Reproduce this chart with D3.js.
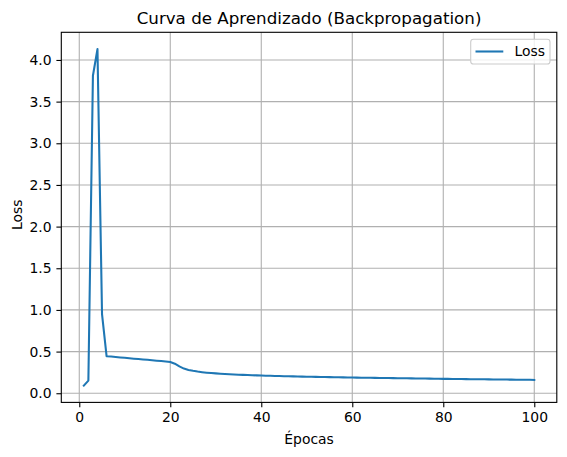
<!DOCTYPE html>
<html><head><meta charset="utf-8">
<script src="https://cdn.jsdelivr.net/npm/d3@7"></script>
<style>body{margin:0;background:#fff}svg{display:block}text{font-family:"DejaVu Sans",sans-serif;fill:#000}</style>
</head><body><svg id="c" width="567" height="457"></svg>
<script>
const titleText = "Curva de Aprendizado (Backpropagation)";
const xLabel = "Épocas";
const yLabel = "Loss";
const seriesName = "Loss";
const epochs = d3.range(1, 101);
const loss = [
 0.092,0.152,3.81,4.13,0.95,0.445,0.440,0.435,0.430,0.425,
 0.420,0.415,0.411,0.406,0.401,0.396,0.391,0.386,0.381,0.375,
 0.355,0.322,0.296,0.280,0.269,0.260,0.253,0.247,0.242,0.238,
 0.234,0.231,0.228,0.225,0.222,0.220,0.218,0.216,0.214,0.212,
 0.210,0.209,0.207,0.206,0.204,0.203,0.202,0.200,0.199,0.198,
 0.197,0.196,0.195,0.194,0.193,0.192,0.191,0.190,0.189,0.188,
 0.187,0.186,0.185,0.185,0.184,0.183,0.182,0.182,0.181,0.180,
 0.179,0.179,0.178,0.177,0.177,0.176,0.175,0.174,0.173,0.172,
 0.172,0.171,0.170,0.170,0.169,0.168,0.168,0.167,0.167,0.166,
 0.165,0.165,0.164,0.164,0.163,0.162,0.162,0.161,0.161,0.160
];
const xTicks = [0,20,40,60,80,100];
const yTicks = [0,0.5,1,1.5,2,2.5,3,3.5,4];

const svg = d3.select("#c");
const L = 61.3, R = 556.8, T = 32.3, B = 402.4;
const xr = d3.extent(epochs), xm = (xr[1]-xr[0])*0.05;
const yr = d3.extent(loss), ym = (yr[1]-yr[0])*0.05;
const x = d3.scaleLinear().domain([xr[0]-xm, xr[1]+xm]).range([L, R]);
const y = d3.scaleLinear().domain([yr[0]-ym, yr[1]+ym]).range([B, T]);

// grid
const g = svg.append("g");
g.selectAll(".gx").data(xTicks).join("line")
 .attr("x1", d=>x(d)).attr("x2", d=>x(d)).attr("y1", T).attr("y2", B)
 .attr("stroke", "#b0b0b0").attr("stroke-width", 1.1);
g.selectAll(".gy").data(yTicks).join("line")
 .attr("y1", d=>y(d)).attr("y2", d=>y(d)).attr("x1", L).attr("x2", R)
 .attr("stroke", "#b0b0b0").attr("stroke-width", 1.1);

// line
const line = d3.line().x((d,i)=>x(epochs[i])).y(d=>y(d));
svg.append("path").datum(loss).attr("d", line).attr("fill","none")
 .attr("stroke","#1f77b4").attr("stroke-width",2.08).attr("stroke-linejoin","round").attr("stroke-linecap","square");

// axes
const xAxis = d3.axisBottom(x).tickValues(xTicks).tickFormat(d3.format("d")).tickSizeOuter(0).tickSize(4.9).tickPadding(4.9);
const yAxis = d3.axisLeft(y).tickValues(yTicks).tickFormat(d3.format(".1f")).tickSizeOuter(0).tickSize(4.9).tickPadding(4.9);
const gx = svg.append("g").attr("transform", `translate(0,${B})`).call(xAxis);
const gy = svg.append("g").attr("transform", `translate(${L},0)`).call(yAxis);
[gx, gy].forEach(a => {
  a.select(".domain").remove();
  a.selectAll(".tick line").attr("stroke","#000").attr("stroke-width",1.1);
  a.selectAll(".tick text").attr("font-size","13.9px").attr("font-family","DejaVu Sans").attr("fill","#000");
});
// spines
svg.append("rect").attr("x",L).attr("y",T).attr("width",R-L).attr("height",B-T)
 .attr("fill","none").attr("stroke","#000").attr("stroke-width",1.1);

// labels
svg.append("text").attr("x",(L+R)/2).attr("y",24).attr("text-anchor","middle")
 .attr("font-size","16.7px").text(titleText);
svg.append("text").attr("x",(L+R)/2).attr("y",444).attr("text-anchor","middle")
 .attr("font-size","13.9px").text(xLabel);
svg.append("text").attr("transform",`translate(22,${(T+B)/2 - 2.5}) rotate(-90)`).attr("text-anchor","middle")
 .attr("font-size","13.9px").text(yLabel);

// legend
const lg = svg.append("g");
lg.append("rect").attr("x",470.7).attr("y",39.3).attr("width",79.3).attr("height",24.7).attr("rx",2.8)
 .attr("fill","#fff").attr("fill-opacity",0.8).attr("stroke","#cccccc").attr("stroke-width",1.1);
lg.append("line").attr("x1",475.5).attr("x2",503.3).attr("y1",51.5).attr("y2",51.5)
 .attr("stroke","#1f77b4").attr("stroke-width",2.08);
lg.append("text").attr("x",514.5).attr("y",56.4).attr("font-size","13.9px").text(seriesName);
</script></body></html>
